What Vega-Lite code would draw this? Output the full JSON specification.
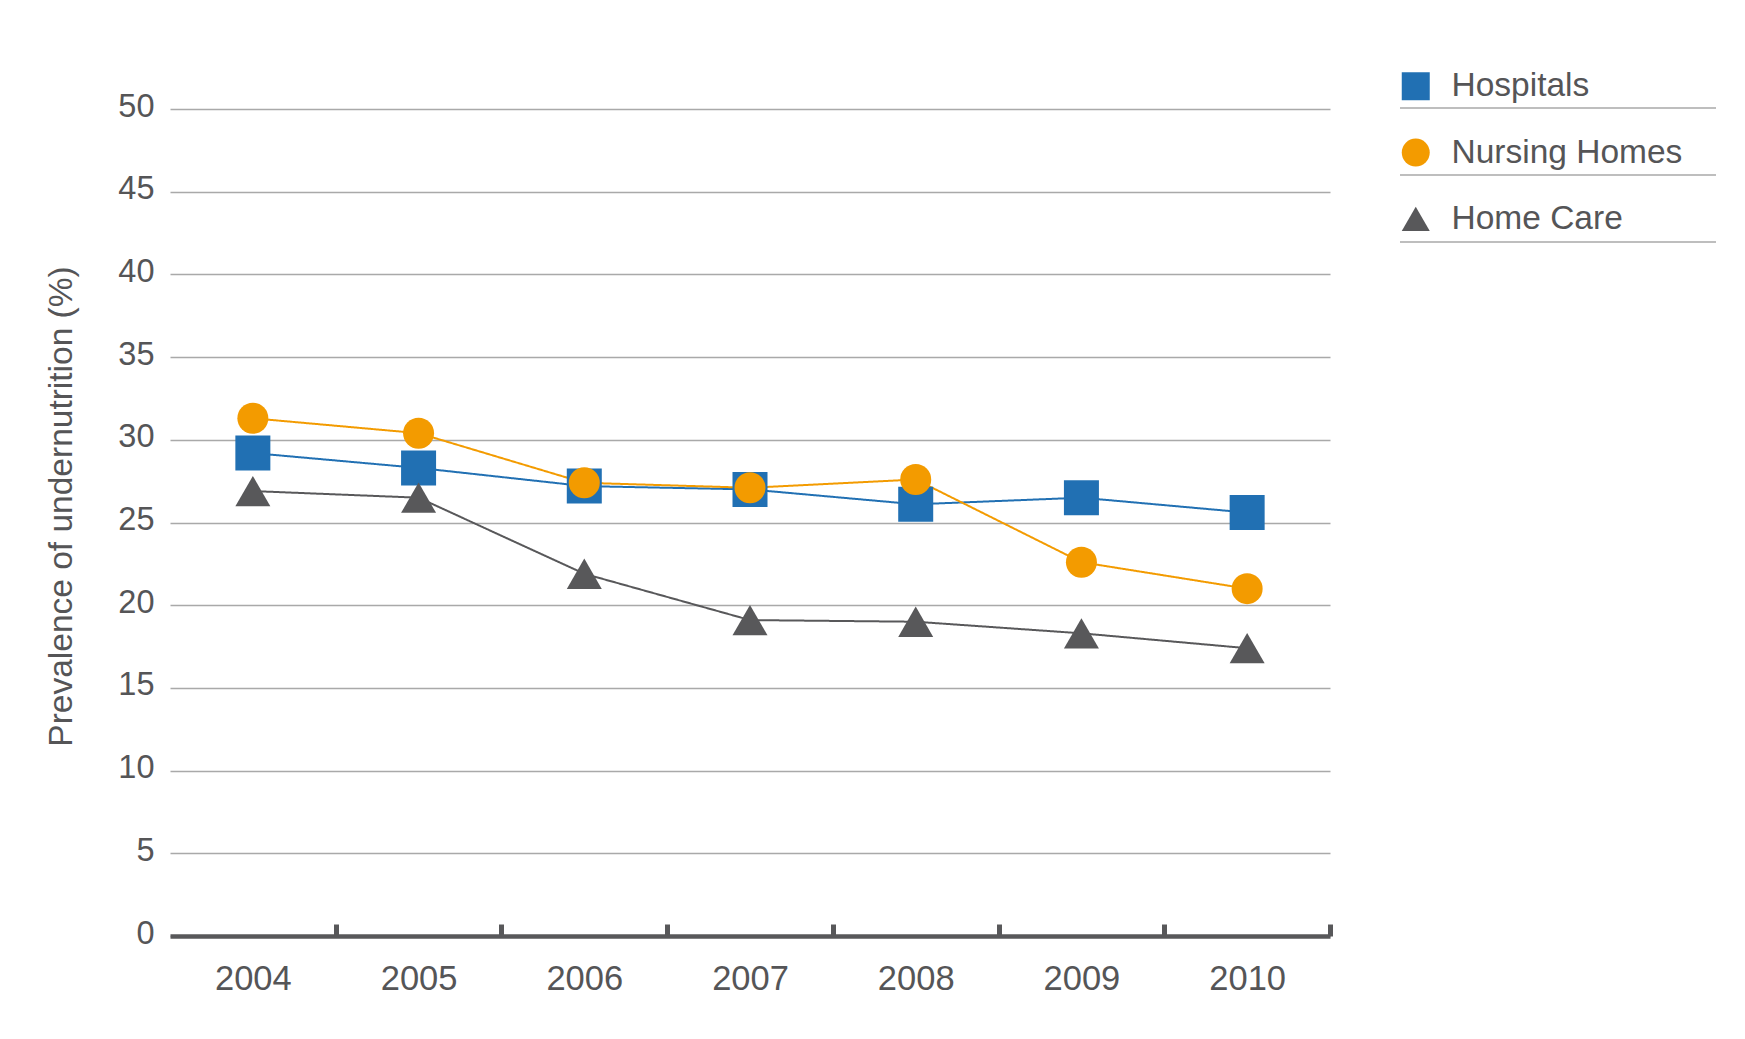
{
  "$schema": "https://vega.github.io/schema/vega-lite/v6.json",
  "width": 1160,
  "height": 827,
  "autosize": {"type": "none"},
  "padding": {"left": 170, "top": 109, "right": 415, "bottom": 103},
  "background": "white",
  "config": {"view": {"stroke": null}, "font": "Liberation Sans"},
  "data": {
    "values": [
      {"series": "Hospitals", "year": "2004", "value": 29.2},
      {"series": "Hospitals", "year": "2005", "value": 28.3},
      {"series": "Hospitals", "year": "2006", "value": 27.2},
      {"series": "Hospitals", "year": "2007", "value": 27.0},
      {"series": "Hospitals", "year": "2008", "value": 26.1},
      {"series": "Hospitals", "year": "2009", "value": 26.5},
      {"series": "Hospitals", "year": "2010", "value": 25.6},
      {"series": "Nursing Homes", "year": "2004", "value": 31.3},
      {"series": "Nursing Homes", "year": "2005", "value": 30.4},
      {"series": "Nursing Homes", "year": "2006", "value": 27.4},
      {"series": "Nursing Homes", "year": "2007", "value": 27.1},
      {"series": "Nursing Homes", "year": "2008", "value": 27.6},
      {"series": "Nursing Homes", "year": "2009", "value": 22.6},
      {"series": "Nursing Homes", "year": "2010", "value": 21.0},
      {"series": "Home Care", "year": "2004", "value": 26.9},
      {"series": "Home Care", "year": "2005", "value": 26.5},
      {"series": "Home Care", "year": "2006", "value": 21.9},
      {"series": "Home Care", "year": "2007", "value": 19.1},
      {"series": "Home Care", "year": "2008", "value": 19.0},
      {"series": "Home Care", "year": "2009", "value": 18.3},
      {"series": "Home Care", "year": "2010", "value": 17.4}
    ]
  },
  "encoding": {
    "x": {
      "field": "year",
      "type": "ordinal",
      "scale": {"type": "band", "paddingInner": 0, "paddingOuter": 0},
      "axis": {
        "title": null,
        "labelAngle": 0,
        "labelFontSize": 34.5,
        "labelColor": "#555557",
        "labelPadding": 38,
        "domainColor": "#58585a",
        "domainWidth": 4.5,
        "tickColor": "#58585a",
        "tickWidth": 5,
        "tickSize": -12,
        "tickBand": "extent",
        "tickOpacity": {"condition": {"test": "!!datum.extra", "value": 0}, "value": 1},
        "grid": false
      }
    },
    "y": {
      "field": "value",
      "type": "quantitative",
      "scale": {"domain": [0, 50], "nice": false, "zero": true},
      "axis": {
        "values": [0, 5, 10, 15, 20, 25, 30, 35, 40, 45, 50],
        "grid": true,
        "gridColor": "#a9a9a9",
        "gridWidth": 1.5,
        "domain": false,
        "ticks": false,
        "labelFontSize": 32.5,
        "labelColor": "#555557",
        "labelPadding": 16,
        "labelBaseline": "middle",
        "labelOffset": -3,
        "title": "Prevalence of undernutrition (%)",
        "titleFontSize": 33.5,
        "titleFontWeight": "normal",
        "titleColor": "#555557",
        "titleX": -109,
        "titleY": 397,
        "titleAlign": "center",
        "titleBaseline": "middle",
        "titleAngle": -90
      }
    },
    "color": {
      "field": "series",
      "type": "nominal",
      "scale": {
        "domain": ["Hospitals", "Nursing Homes", "Home Care"],
        "range": ["#2170b3", "#f39b00", "#58585a"]
      },
      "legend": {
        "orient": "none",
        "legendX": 1229,
        "legendY": -39.5,
        "title": null,
        "labelFontSize": 33.5,
        "labelColor": "#555557",
        "labelLimit": 400,
        "symbolSize": 784,
        "rowPadding": 31.3,
        "labelOffset": 19,
        "padding": 0,
        "symbolStrokeWidth": 0
      }
    }
  },
  "layer": [
    {
      "mark": {"type": "line", "strokeWidth": 2},
      "encoding": {
        "strokeDash": {
          "field": "series",
          "type": "nominal",
          "scale": {
            "domain": ["Home Care", "Hospitals", "Nursing Homes"],
            "range": [[1, 0], [1, 0], [1, 0]]
          },
          "legend": {
            "orient": "none",
            "legendX": 1229,
            "legendY": -34.15,
            "title": null,
            "symbolType": "stroke",
            "symbolSize": 99856,
            "symbolStrokeColor": "#a9a9a9",
            "symbolStrokeWidth": 1.5,
            "clipHeight": 66.3,
            "labelExpr": "''",
            "labelFontSize": 1,
            "labelOpacity": 0,
            "labelOffset": 0,
            "rowPadding": 0,
            "padding": 0,
            "encode": {
              "symbols": {"update": {"stroke": {"value": "#a9a9a9"}, "strokeWidth": {"value": 1.5}}}
            }
          }
        }
      }
    },
    {
      "transform": [{"filter": "datum.series !== 'Nursing Homes'"}],
      "mark": {"type": "point", "filled": true, "opacity": 1, "strokeWidth": 0, "size": 1225},
      "encoding": {
        "shape": {
          "field": "series",
          "type": "nominal",
          "scale": {
            "domain": ["Hospitals", "Nursing Homes", "Home Care"],
            "range": ["square", "circle", "triangle-up"]
          }
        }
      }
    },
    {
      "transform": [{"filter": "datum.series === 'Nursing Homes'"}],
      "mark": {"type": "point", "filled": true, "opacity": 1, "strokeWidth": 0, "size": 961},
      "encoding": {
        "shape": {
          "field": "series",
          "type": "nominal",
          "scale": {
            "domain": ["Hospitals", "Nursing Homes", "Home Care"],
            "range": ["square", "circle", "triangle-up"]
          }
        }
      }
    }
  ]
}
